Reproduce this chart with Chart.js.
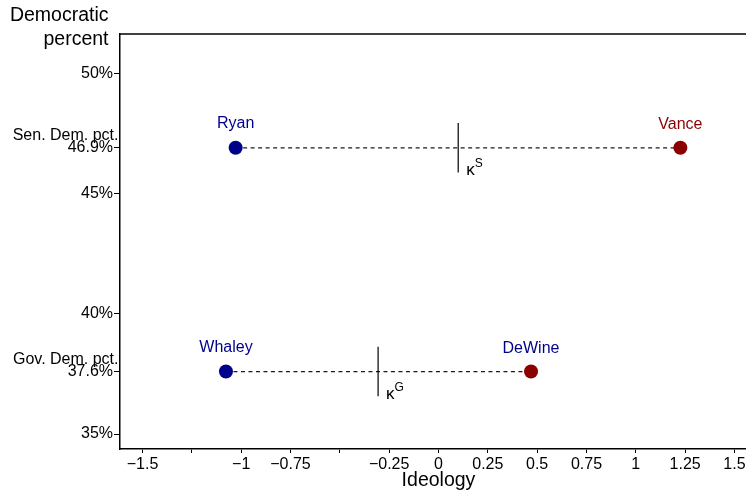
<!DOCTYPE html>
<html>
<head>
<meta charset="utf-8">
<script src="https://cdn.jsdelivr.net/npm/chart.js@4/dist/chart.umd.min.js"></script>
<style>
  html, body { margin: 0; padding: 0; background: #fff; }
  #wrap { width: 746px; height: 493px; }
</style>
</head>
<body>
<div id="wrap"><canvas id="c" width="746" height="493"></canvas></div>
<script>
// ---- data ----
const races = ['Senate', 'Governor'];
const demCandidates = ['Ryan', 'Whaley'];
const repCandidates = ['Vance', 'DeWine'];
const demIdeology = [-1.028, -1.077];
const repIdeology = [1.226, 0.469];
const demPercent = [46.9, 37.6];
const kappaValues = [0.100, -0.306];
const kappaSuperscripts = ['S', 'G'];
const xTickValues = [-1.5, -1.25, -1, -0.75, -0.5, -0.25, 0, 0.25, 0.5, 0.75, 1, 1.25, 1.5];
const xTickLabels = ['\u22121.5', '', '\u22121', '\u22120.75', '', '\u22120.25', '0', '0.25', '0.5', '0.75', '1', '1.25', '1.5'];
const yTickValues = [35, 37.6, 40, 45, 46.9, 50];
const yTickLabels = ['35%', '37.6%', '40%', '45%', '46.9%', '50%'];
const yTickNotes = ['', 'Gov. Dem. pct.', '', '', 'Sen. Dem. pct.', ''];
const xTitle = 'Ideology';
const yTitleLines = ['Democratic', 'percent'];

// ---- styles ----
const FONT = "'Liberation Sans', Arial, Helvetica, sans-serif";
const BLUE = '#00008B';
const RED = '#8B0000';
const demLabelColors = [BLUE, BLUE];
const repLabelColors = [RED, BLUE];
const KAPPA_HALF = 1.03;

const datasets = [];
datasets.push({
  label: 'Democrats',
  data: races.map((r, i) => ({ x: demIdeology[i], y: demPercent[i] })),
  pointRadius: 7, pointHoverRadius: 7,
  pointBackgroundColor: BLUE, pointBorderColor: BLUE, pointBorderWidth: 0,
  showLine: false, order: 0
});
datasets.push({
  label: 'Republicans',
  data: races.map((r, i) => ({ x: repIdeology[i], y: demPercent[i] })),
  pointRadius: 7, pointHoverRadius: 7,
  pointBackgroundColor: RED, pointBorderColor: RED, pointBorderWidth: 0,
  showLine: false, order: 0
});
races.forEach((r, i) => {
  datasets.push({
    label: r + ' span',
    data: [{ x: demIdeology[i], y: demPercent[i] }, { x: repIdeology[i], y: demPercent[i] }],
    showLine: true, borderColor: '#1a1a1a', borderWidth: 1.3, borderDash: [4, 3.5],
    pointRadius: 0, order: 2
  });
  datasets.push({
    label: r + ' kappa',
    data: [{ x: kappaValues[i], y: demPercent[i] - KAPPA_HALF }, { x: kappaValues[i], y: demPercent[i] + KAPPA_HALF }],
    showLine: true, borderColor: '#000', borderWidth: 1.2,
    pointRadius: 0, order: 1
  });
});

const annotate = {
  id: 'annotate',
  afterDatasetsDraw(chart) {
    const ctx = chart.ctx;
    const xs = chart.scales.x, ys = chart.scales.y;
    const area = chart.chartArea;
    ctx.save();
    ctx.strokeStyle = '#000';
    ctx.lineWidth = 1.5;
    ctx.beginPath();
    ctx.moveTo(area.left - 0.75, area.top);
    ctx.lineTo(chart.width, area.top);
    ctx.stroke();

    ctx.textBaseline = 'alphabetic';
    ctx.font = '16px ' + FONT;
    ctx.textAlign = 'center';
    races.forEach((r, i) => {
      const py = ys.getPixelForValue(demPercent[i]);
      ctx.fillStyle = demLabelColors[i];
      ctx.fillText(demCandidates[i], xs.getPixelForValue(demIdeology[i]), py - 20);
      ctx.fillStyle = repLabelColors[i];
      ctx.fillText(repCandidates[i], xs.getPixelForValue(repIdeology[i]), py - 18.5);
    });
    races.forEach((r, i) => {
      const kx = xs.getPixelForValue(kappaValues[i]);
      const py = ys.getPixelForValue(demPercent[i]);
      ctx.fillStyle = '#000';
      ctx.textAlign = 'left';
      ctx.font = '17px ' + FONT;
      ctx.fillText('\u03BA', kx + 8, py + 27.5);
      ctx.font = '12px ' + FONT;
      ctx.fillText(kappaSuperscripts[i], kx + 16.5, py + 19.5);
    });
    ctx.font = '16px ' + FONT;
    ctx.fillStyle = '#000';
    ctx.textAlign = 'right';
    yTickValues.forEach((v, i) => {
      if (!yTickNotes[i]) return;
      ctx.fillText(yTickNotes[i], 118.5, ys.getPixelForValue(v) - 8);
    });
    ctx.font = '19.5px ' + FONT;
    ctx.textAlign = 'right';
    ctx.fillText(yTitleLines[0], 108.5, 21);
    ctx.fillText(yTitleLines[1], 108.5, 45);
    ctx.textAlign = 'center';
    ctx.fillText(xTitle, xs.getPixelForValue(0), 486);
    ctx.restore();
  }
};

new Chart(document.getElementById('c'), {
  type: 'scatter',
  data: { datasets },
  options: {
    responsive: false,
    animation: false,
    devicePixelRatio: 1,
    layout: { autoPadding: false, padding: { top: 34, left: 0, right: 0, bottom: 0 } },
    plugins: { legend: { display: false }, tooltip: { enabled: false } },
    scales: {
      x: {
        type: 'linear',
        min: -1.614, max: 1.5585,
        afterBuildTicks: (s) => { s.ticks = xTickValues.map(v => ({ value: v })); },
        afterFit: (s) => { s.height = 44; s.paddingLeft = 0; s.paddingRight = 0; },
        ticks: {
          autoSkip: false, maxRotation: 0, padding: 2,
          color: '#000', font: { family: FONT, size: 16 },
          callback: (v) => { const k = xTickValues.findIndex(t => Math.abs(t - v) < 1e-9); return k >= 0 ? xTickLabels[k] : ''; }
        },
        grid: { drawOnChartArea: false, drawTicks: true, tickLength: 4, color: '#000', lineWidth: 1 },
        border: { display: true, color: '#000', width: 1.5 }
      },
      y: {
        type: 'linear',
        min: 34.38, max: 51.63,
        afterBuildTicks: (s) => { s.ticks = yTickValues.map(v => ({ value: v })); },
        afterFit: (s) => { s.width = 120; s.paddingTop = 0; s.paddingBottom = 0; },
        ticks: {
          autoSkip: false, padding: 1,
          color: '#000', font: { family: FONT, size: 16 },
          callback: (v) => { const k = yTickValues.findIndex(t => Math.abs(t - v) < 1e-9); return k >= 0 ? yTickLabels[k] : ''; }
        },
        grid: { drawOnChartArea: false, drawTicks: true, tickLength: 6, color: '#000', lineWidth: 1 },
        border: { display: true, color: '#000', width: 1.5 }
      }
    }
  },
  plugins: [annotate]
});
</script>
</body>
</html>
